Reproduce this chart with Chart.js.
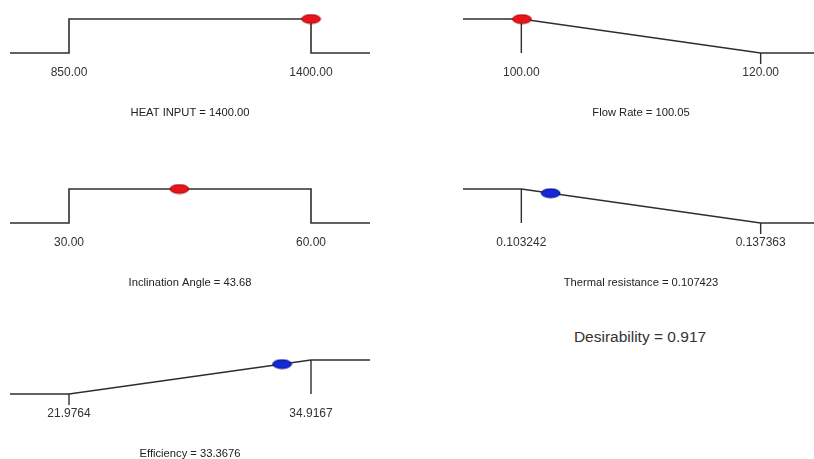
<!DOCTYPE html>
<html>
<head>
<meta charset="utf-8">
<script src="https://cdn.jsdelivr.net/npm/chart.js@4/dist/chart.umd.min.js"></script>
<style>
  html, body { margin: 0; padding: 0; background: #fff; overflow: hidden; width: 814px; height: 459px; }
  canvas.panel { position: absolute; }
  #overall {
    position: absolute; left: 540px; top: 328px; width: 200px; text-align: center;
    font: 15.5px "Liberation Sans", Arial, sans-serif; color: #333; white-space: nowrap;
  }
</style>
</head>
<body>
<canvas id="p0" class="panel"></canvas>
<canvas id="p1" class="panel"></canvas>
<canvas id="p2" class="panel"></canvas>
<canvas id="p3" class="panel"></canvas>
<canvas id="p4" class="panel"></canvas>
<div id="overall"></div>
<script>
// Optimisation ramps: one panel per factor / response
const factorNames    = ['HEAT INPUT', 'Flow Rate', 'Inclination Angle', 'Thermal resistance', 'Efficiency'];
const lowLimits      = [850, 100, 30, 0.103242, 21.9764];
const highLimits     = [1400, 120, 60, 0.137363, 34.9167];
const goals          = ['range', 'minimize', 'range', 'minimize', 'maximize'];
const optimumValues  = [1400.00, 100.05, 43.68, 0.107423, 33.3676];
const optimumLabels  = ['1400.00', '100.05', '43.68', '0.107423', '33.3676'];
const desirabilities = [1, 0.9975, 1, 0.8775, 0.8803];
const limitDecimals  = [2, 2, 2, 6, 4];
const markerColours  = ['red', 'red', 'red', 'blue', 'blue'];
const overallDesirability = '0.917';

// Panel placement on the page (canvas left/top/width)
const boxes = [
  { left: 10,  top: 9,   width: 360 },
  { left: 463, top: 9,   width: 356 },
  { left: 10,  top: 179, width: 360 },
  { left: 463, top: 179, width: 356 },
  { left: 10,  top: 350, width: 360 }
];
const PANEL_H = 111;
const AREA_H = 56;              // plot area height in px
const UNIT = 34;                // px per desirability unit
const Y_MAX = 1 + 10 / UNIT;
const Y_MIN = 1 + 10 / UNIT - AREA_H / UNIT;
const STUB = -11 / UNIT;        // short tick below the zero line
const EDGE = 0.2438;            // flat extension beyond each limit, fraction of range
const FONT = '"Liberation Sans", Arial, sans-serif';
const TITLE_SIZE = 11.2;
const LINE = '#2e2e2e';

const styles = {
  red:  { fill: '#e8141c', stroke: '#a10000' },
  blue: { fill: '#1428d8', stroke: '#000a7a' }
};

function markerImage(name) {
  const s = styles[name];
  const c = document.createElement('canvas');
  c.width = 21; c.height = 11;
  const g = c.getContext('2d');
  g.beginPath();
  g.ellipse(10.5, 5.5, 9.4, 4.4, 0, 0, Math.PI * 2);
  g.fillStyle = s.fill; g.fill();
  g.lineWidth = 1; g.strokeStyle = s.stroke; g.stroke();
  return c;
}

function rampPoints(i, xmin, xmax) {
  const lo = lowLimits[i], hi = highLimits[i];
  let pts;
  if (goals[i] === 'range') pts = [[xmin, 0], [lo, 0], [lo, 1], [hi, 1], [hi, 0], [xmax, 0]];
  else if (goals[i] === 'minimize') pts = [[xmin, 1], [lo, 1], [hi, 0], [xmax, 0]];
  else pts = [[xmin, 0], [lo, 0], [hi, 1], [xmax, 1]];
  return pts.map(p => ({ x: p[0], y: p[1] }));
}

function limitTicks(i) {
  const lo = lowLimits[i], hi = highLimits[i];
  if (goals[i] === 'minimize')
    return [{ x: lo, y: 1 }, { x: lo, y: 0 }, { x: lo, y: null }, { x: hi, y: 0 }, { x: hi, y: STUB }];
  if (goals[i] === 'maximize')
    return [{ x: lo, y: 0 }, { x: lo, y: STUB }, { x: lo, y: null }, { x: hi, y: 1 }, { x: hi, y: 0 }];
  return [];
}

function titleHeight() { return TITLE_SIZE * 1.2; }

factorNames.forEach((name, i) => {
  const canvas = document.getElementById('p' + i);
  const b = boxes[i];
  canvas.width = b.width; canvas.height = PANEL_H;
  canvas.style.left = b.left + 'px'; canvas.style.top = b.top + 'px';
  canvas.style.width = b.width + 'px'; canvas.style.height = PANEL_H + 'px';

  const lo = lowLimits[i], hi = highLimits[i];
  const pad = EDGE * (hi - lo);
  const xmin = lo - pad, xmax = hi + pad;

  new Chart(canvas, {
    type: 'scatter',
    data: {
      datasets: [
        {
          data: [{ x: optimumValues[i], y: desirabilities[i] }],
          showLine: false,
          pointStyle: markerImage(markerColours[i]),
          pointRadius: 10,
          order: 0,
          clip: false
        },
        {
          data: rampPoints(i, xmin, xmax),
          showLine: true, borderColor: LINE, borderWidth: 1.6,
          pointRadius: 0, tension: 0, fill: false, order: 1
        },
        {
          data: limitTicks(i),
          showLine: true, spanGaps: false, borderColor: LINE, borderWidth: 1.4,
          pointRadius: 0, tension: 0, fill: false, order: 2
        }
      ]
    },
    options: {
      responsive: false,
      animation: false,
      devicePixelRatio: 1,
      events: [],
      layout: { padding: 0, autoPadding: false },
      plugins: {
        legend: { display: false },
        tooltip: { enabled: false },
        title: {
          display: true,
          position: 'bottom',
          text: name + ' = ' + optimumLabels[i],
          color: '#222',
          padding: 0,
          font: { family: FONT, size: TITLE_SIZE, weight: 'normal' }
        }
      },
      scales: {
        x: {
          type: 'linear',
          min: xmin, max: xmax,
          grid: { display: false, drawTicks: false },
          border: { display: false },
          afterBuildTicks: ax => { ax.ticks = [{ value: lo }, { value: hi }]; },
          afterFit: ax => { ax.height = PANEL_H - AREA_H - titleHeight(); },
          ticks: {
            autoSkip: false, maxRotation: 0, minRotation: 0, padding: 0,
            color: '#333',
            font: { family: FONT, size: 12 },
            callback: v => Number(v).toFixed(limitDecimals[i])
          }
        },
        y: { display: false, min: Y_MIN, max: Y_MAX }
      }
    }
  });
});

document.getElementById('overall').textContent = 'Desirability = ' + overallDesirability;
</script>
</body>
</html>
